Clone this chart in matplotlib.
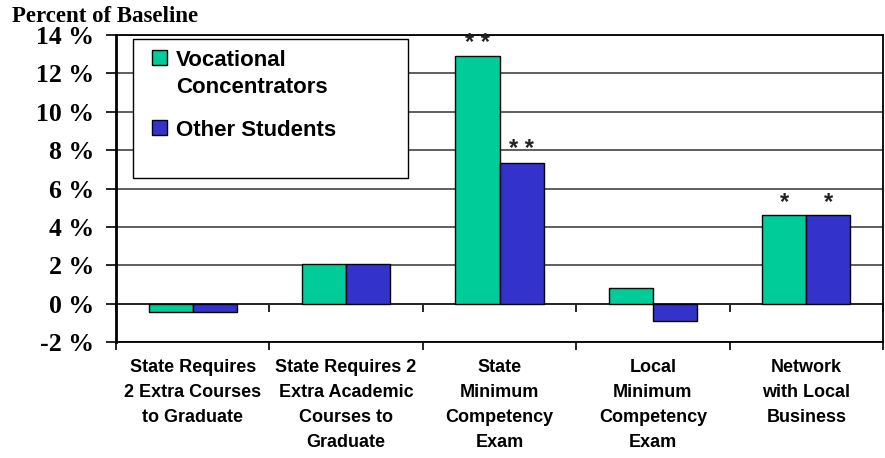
import matplotlib
matplotlib.use('Agg')
import matplotlib.pyplot as plt
from matplotlib.patches import Patch, Rectangle
import numpy as np

# 数据
categories = ['State Requires\n2 Extra Courses\nto Graduate',
              'State Requires 2\nExtra Academic\nCourses to\nGraduate',
              'State\nMinimum\nCompetency\nExam',
              'Local\nMinimum\nCompetency\nExam',
              'Network\nwith Local\nBusiness']
vocational = [-0.4, 2.1, 12.9, 0.8, 4.6]
other = [-0.4, 2.1, 7.35, -0.9, 4.6]
sig_voc = ['', '', '**', '', '*']
sig_oth = ['', '', '**', '', '*']
series_names = ['Vocational\nConcentrators', 'Other Students']
yticks = [-2, 0, 2, 4, 6, 8, 10, 12, 14]

green = '#00CC99'
blue = '#3333CC'
sans = 'Liberation Sans'
serif = 'Liberation Serif'

fig = plt.figure(figsize=(8.85, 4.58), dpi=100)
ax = fig.add_axes([116 / 885, 1 - 342.3 / 458, 767 / 885, 307.5 / 458])

x = np.arange(len(categories))
w = 0.287
b1 = ax.bar(x - w / 2, vocational, w, color=green, edgecolor='black', linewidth=1, zorder=3)
b2 = ax.bar(x + w / 2, other, w, color=blue, edgecolor='black', linewidth=1, zorder=3)

# 显著性星号
for bars, sig in ((b1, sig_voc), (b2, sig_oth)):
    for rect, s in zip(bars, sig):
        if s:
            ax.annotate(s.replace('**', '* *'), (rect.get_x() + rect.get_width() / 2, rect.get_height()),
                        xytext=(0, 1), textcoords='offset points', ha='center', va='bottom',
                        fontsize=17, family=sans, fontweight='bold', color='#222222', zorder=4)

ax.set_xlim(-0.5, len(categories) - 0.5)
ax.set_ylim(-2, 14)

# y轴
ax.set_yticks(yticks)
ax.set_yticklabels([f'{v} %' for v in yticks], family=serif, fontweight='bold', fontsize=18.5)
ax.tick_params(axis='y', direction='out', length=7, width=1.2, pad=9)
ax.yaxis.grid(True, color='#333333', linewidth=1.1, zorder=0)
ax.set_axisbelow(True)

# x轴：底部刻度在分界处
ax.set_xticks(np.arange(-0.5, len(categories), 1))
ax.set_xticklabels([])
ax.tick_params(axis='x', which='major', direction='out', length=6, width=1.2)
ax.set_xticks(x, minor=True)
ax.set_xticklabels(categories, minor=True, family=sans, fontweight='bold', fontsize=13,
                   linespacing=1.62, va='top')
ax.tick_params(axis='x', which='minor', length=0, pad=12)

# 0线
sec = ax.secondary_xaxis(0, transform=ax.transData)
sec.set_xticks(np.arange(-0.5, len(categories), 1))
sec.set_xticklabels([])
sec.tick_params(direction='out', length=6, width=1.2)
sec.spines['bottom'].set_linewidth(1.4)

for sp in ax.spines.values():
    sp.set_linewidth(1.3)
    sp.set_color('black')
ax.spines['left'].set_linewidth(2)

# 图例
frame = Rectangle((133 / 885, 1 - 178 / 458), 275 / 885, 139 / 458, transform=fig.transFigure,
                  facecolor='white', edgecolor='black', linewidth=1, zorder=4)
ax.add_patch(frame)
handles = [Patch(facecolor=green, edgecolor='black'), Patch(facecolor=blue, edgecolor='black')]
leg = ax.legend(handles, series_names, loc='upper left', bbox_to_anchor=(152 / 885, 1 - 50 / 458),
                bbox_transform=fig.transFigure, frameon=False, borderpad=0, borderaxespad=0,
                handlelength=0.68, handleheight=0.68, handletextpad=0.4, labelspacing=0.95,
                prop={'family': sans, 'weight': 'bold', 'size': 16})
leg.set_zorder(5)
for t in leg.get_texts():
    t.set_linespacing(1.4)
try:
    for row in leg._legend_handle_box.get_children()[0].get_children():
        row.align = 'top'
except Exception:
    pass

fig.text(12 / 885, 1 - 16 / 458, 'Percent of Baseline', family=serif, fontweight='bold',
         fontsize=16.5, ha='left', va='center')

fig.savefig('out.png', dpi=100)
